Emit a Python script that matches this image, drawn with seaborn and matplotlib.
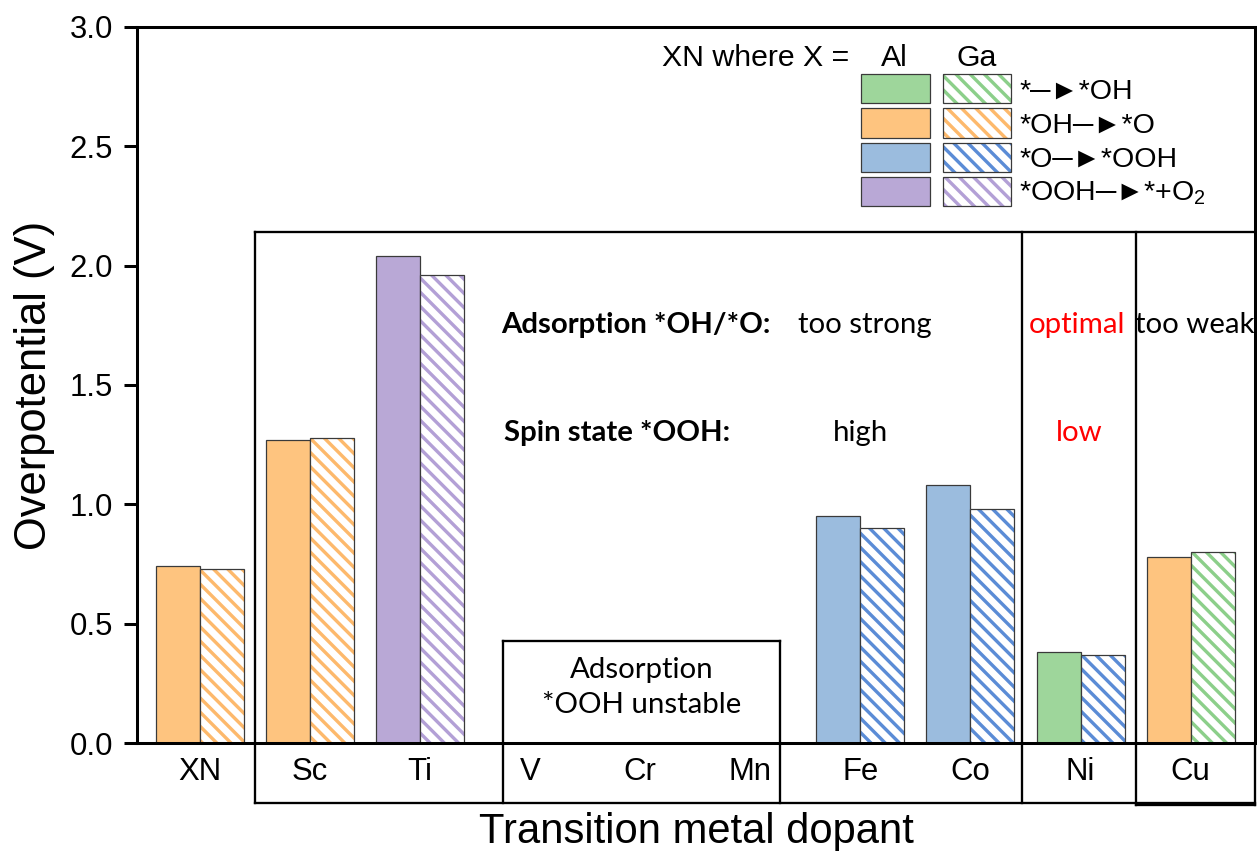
import matplotlib
matplotlib.use("Agg")
import matplotlib.pyplot as plt
import seaborn as sns
import numpy as np
import pandas as pd
from matplotlib.patches import Patch, Rectangle
from matplotlib.legend_handler import HandlerTuple

# data
dopants = ["XN", "Sc", "Ti", "V", "Cr", "Mn", "Fe", "Co", "Ni", "Cu"]
al_values = [0.74, 1.27, 2.04, np.nan, np.nan, np.nan, 0.95, 1.08, 0.38, 0.78]
ga_values = [0.73, 1.28, 1.96, np.nan, np.nan, np.nan, 0.90, 0.98, 0.37, 0.80]
arrow = "\u2500\u25ba"
step_labels = ["*" + arrow + "*OH", "*OH" + arrow + "*O", "*O" + arrow + "*OOH",
               "*OOH" + arrow + "*+O$_2$"]
al_steps = [1, 1, 3, None, None, None, 2, 2, 0, 1]
ga_steps = [1, 1, 3, None, None, None, 2, 2, 2, 0]

fill_colors = ["#9ed69b", "#fec47f", "#9bbcde", "#b9a8d6"]
hatch_colors = ["#8ccf8a", "#fdb96c", "#5b8cd6", "#b3a0d6"]
edge = "#3a3a3a"

rows = []
for d, v in zip(dopants, al_values):
    if not np.isnan(v):
        rows.append({"dopant": d, "host": "Al", "value": v})
for d, v in zip(dopants, ga_values):
    if not np.isnan(v):
        rows.append({"dopant": d, "host": "Ga", "value": v})
df = pd.DataFrame(rows)

DPI = 128
HATCH = "\\\\\\"
sns.set_style("ticks")
plt.rcParams["font.family"] = ["Liberation Sans", "DejaVu Sans"]
plt.rcParams["mathtext.fontset"] = "custom"
plt.rcParams["mathtext.rm"] = "Liberation Sans"
plt.rcParams["mathtext.it"] = "Liberation Sans"
plt.rcParams["hatch.linewidth"] = 1.9
for key in ["text.color", "axes.labelcolor", "xtick.color", "ytick.color", "axes.edgecolor"]:
    plt.rcParams[key] = "black"

fig = plt.figure(figsize=(1257 / DPI, 851 / DPI), dpi=DPI)
ax = fig.add_axes([0.109, 0.1269, 0.8894, 0.8414])

sns.barplot(data=df, x="dopant", y="value", hue="host", order=dopants,
            hue_order=["Al", "Ga"], errorbar=None, width=0.8, legend=False, ax=ax)

for bar in list(ax.patches):
    c = bar.get_x() + bar.get_width() / 2
    i = int(round(c))
    if c < i:
        k = al_steps[i]
        bar.set_facecolor(fill_colors[k])
        bar.set_edgecolor(edge)
        bar.set_linewidth(0.7)
    else:
        k = ga_steps[i]
        bar.set_facecolor("white")
        bar.set_edgecolor(hatch_colors[k])
        bar.set_hatch(HATCH)
        bar.set_linewidth(0)
        ax.add_patch(Rectangle((bar.get_x(), 0), bar.get_width(), bar.get_height(),
                               fill=False, edgecolor=edge, linewidth=0.7))

ax.set_xlim(-0.572, 9.585)
ax.set_ylim(0, 3.0)
ax.set_yticks(np.arange(0, 3.01, 0.5))
ax.set_yticklabels([f"{t:.1f}" for t in np.arange(0, 3.01, 0.5)])
for sp in ax.spines.values():
    sp.set_linewidth(1.7)
    sp.set_visible(True)
ax.tick_params(axis="y", length=7.5, width=1.7, pad=6, labelsize=17.5, direction="out")
ax.tick_params(axis="x", length=0, pad=8, labelsize=17.5)
ax.set_xlabel("Transition metal dopant", fontsize=23.5, labelpad=14)
ax.set_ylabel("Overpotential (V)", fontsize=24.5, labelpad=8)

# group boxes around tick labels
lw = 1.3
xr = 9.585
def seg(x, y):
    ax.plot(x, y, color="black", lw=lw, clip_on=False, solid_capstyle="projecting")

seg([0.5, 0.5], [-0.25, 2.14])
seg([0.5, xr], [2.14, 2.14])
seg([0.5, xr], [-0.25, -0.25])
seg([7.47, 7.47], [-0.25, 2.14])
seg([8.5, 8.5], [-0.26, 2.14])
seg([xr, xr], [-0.26, 0])
seg([8.5, xr], [-0.26, -0.26])
seg([2.75, 2.75], [-0.25, 0.427])
seg([5.27, 5.27], [-0.25, 0.427])
seg([2.75, 5.27], [0.427, 0.427])

cal = "Lato"
fs = 16.5
ax.text(3.96, 1.75, "Adsorption *OH/*O:", family=cal, weight="bold", fontsize=fs, ha="center", va="center")
ax.text(6.04, 1.75, "too strong", family=cal, fontsize=fs, ha="center", va="center")
ax.text(7.97, 1.75, "optimal", family=cal, fontsize=fs, color="red", ha="center", va="center")
ax.text(9.04, 1.75, "too weak", family=cal, fontsize=fs, ha="center", va="center")
ax.text(3.79, 1.30, "Spin state *OOH:", family=cal, weight="bold", fontsize=fs, ha="center", va="center")
ax.text(6.0, 1.30, "high", family=cal, fontsize=fs, ha="center", va="center")
ax.text(7.99, 1.30, "low", family=cal, fontsize=fs, color="red", ha="center", va="center")
ax.text(4.01, 0.232, "Adsorption\n*OOH unstable", family=cal, fontsize=fs, ha="center",
        va="center", linespacing=1.4)

# legend
al_handles = [Patch(facecolor=c, edgecolor=edge, linewidth=0.7) for c in fill_colors]
ga_handles = [(Patch(facecolor="white", edgecolor=h, hatch=HATCH, linewidth=0),
               Patch(facecolor="none", edgecolor=edge, linewidth=0.7)) for h in hatch_colors]
leg = ax.legend(al_handles + ga_handles, [""] * 4 + step_labels, ncol=2,
                loc="upper left", bbox_to_anchor=(0.6476, 0.934), frameon=False,
                borderpad=0, borderaxespad=0, fontsize=16, handlelength=2.42,
                handleheight=1.2, labelspacing=0.14, handletextpad=0.28,
                columnspacing=0.17, handler_map={tuple: HandlerTuple(ndivide=1, pad=0)})
ax.text(5.90, 2.87, "XN where X =", fontsize=17, ha="right", va="center")
ax.text(6.31, 2.87, "Al", fontsize=17, ha="center", va="center")
ax.text(7.06, 2.87, "Ga", fontsize=17, ha="center", va="center")

fig.savefig("out.png", dpi=DPI)
